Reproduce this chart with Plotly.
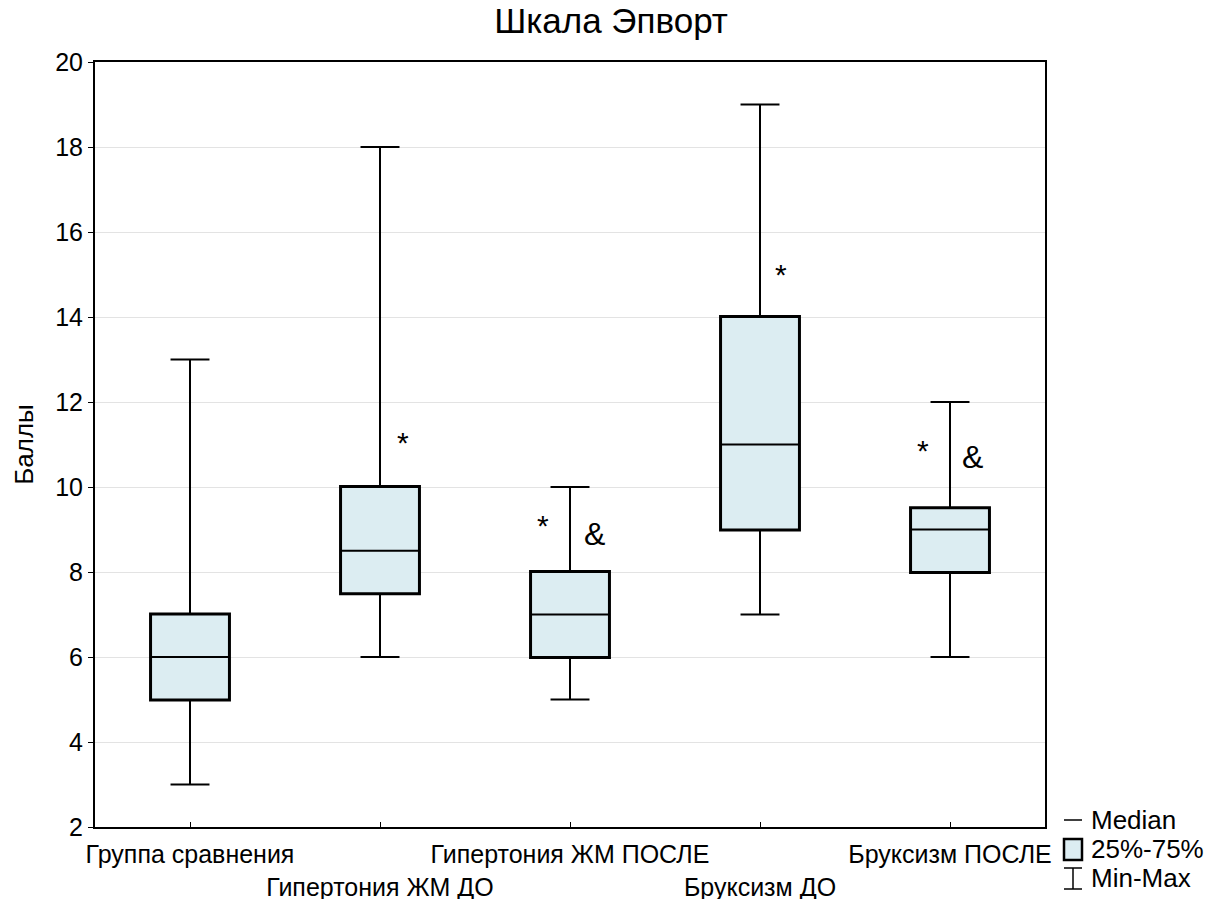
import plotly.graph_objects as go

categories = ["Группа сравнения", "Гипертония ЖМ ДО", "Гипертония ЖМ ПОСЛЕ", "Бруксизм ДО", "Бруксизм ПОСЛЕ"]
mins = [3, 6, 5, 7, 6]
q1s = [5, 7.5, 6, 9, 8]
medians = [6, 8.5, 7, 11, 9]
q3s = [7, 10, 8, 14, 9.5]
maxs = [13, 18, 10, 19, 12]

star_x = [1.12, 1.86, 3.11, 3.86]
star_y = [11.05, 9.1, 15.0, 10.85]
amp_x = [2.13, 4.12]
amp_y = [8.9, 10.7]

FONT = "Liberation Sans, Arial, sans-serif"
FILL = "#dcedf2"
pos = list(range(len(categories)))

fig = go.Figure()
# thick box outline (box only)
fig.add_trace(go.Box(
    x=pos, q1=q1s, median=medians, q3=q3s, lowerfence=q1s, upperfence=q3s,
    width=0.41, whiskerwidth=0, fillcolor=FILL,
    line=dict(color="black", width=4), boxpoints=False, hoverinfo="skip",
    showlegend=False,
))
# full box with whiskers
fig.add_trace(go.Box(
    x=pos, q1=q1s, median=medians, q3=q3s, lowerfence=mins, upperfence=maxs,
    width=0.41, whiskerwidth=0.5, fillcolor=FILL,
    line=dict(color="black", width=2), boxpoints=False, hoverinfo="skip",
    showlegend=False,
))

for x, y in zip(star_x, star_y):
    fig.add_annotation(x=x, y=y, text="*", showarrow=False, font=dict(family=FONT, size=30, color="black"))
for x, y in zip(amp_x, amp_y):
    fig.add_annotation(x=x, y=y, text="&", showarrow=False, font=dict(family=FONT, size=32, color="black"))

ticktext = [c if i % 2 == 0 else "<br>" + c for i, c in enumerate(categories)]

W, H = 1219, 899
L, R, T, B = 95, 174, 62, 72

fig.update_layout(
    width=W, height=H,
    margin=dict(l=L, r=R, t=T, b=B),
    paper_bgcolor="white", plot_bgcolor="white", boxmode="overlay",
    font=dict(family=FONT, size=24, color="black"),
    title=dict(text="Шкала Эпворт", x=611 / W, xanchor="center", y=1 - 21 / H, yanchor="middle",
               font=dict(family=FONT, size=35, color="black")),
    xaxis=dict(range=[-0.5, 4.5], tickvals=pos, ticktext=ticktext, ticks="inside", ticklen=5,
               tickangle=0, automargin=False, ticklabelstandoff=4,
               tickcolor="black", showgrid=False, zeroline=False, showline=True, linecolor="black",
               linewidth=2, mirror=True, tickfont=dict(size=25)),
    yaxis=dict(range=[2, 20], dtick=2, ticks="outside", ticklen=5, tickcolor="black", automargin=False,
               showgrid=True, gridcolor="#e3e3e3", gridwidth=1, zeroline=False, showline=True,
               linecolor="black", linewidth=2, mirror=True, tickfont=dict(size=25),
               title=dict(text="Баллы", font=dict(size=26), standoff=14)),
)

lx0, lx1 = 1064, 1082
PW, PH = W - L - R, H - T - B
def fx(v):
    return (v - L) / PW
def fy(v):
    return (H - B - v) / PH

fig.add_shape(type="line", xref="paper", yref="paper", x0=fx(lx0), x1=fx(lx1),
              y0=fy(820), y1=fy(820), line=dict(color="black", width=1.5))
fig.add_shape(type="rect", xref="paper", yref="paper", x0=fx(lx0), x1=fx(lx1),
              y0=fy(860), y1=fy(839), fillcolor=FILL, line=dict(color="black", width=2.5))
mx = (lx0 + lx1) / 2
for (xa, ya, xb, yb) in [(lx0, 868, lx1, 868), (lx0, 889, lx1, 889), (mx, 868, mx, 889)]:
    fig.add_shape(type="line", xref="paper", yref="paper", x0=fx(xa), x1=fx(xb), y0=fy(ya), y1=fy(yb),
                  line=dict(color="black", width=1.5))
for txt, yy in [("Median", 820), ("25%-75%", 849), ("Min-Max", 878)]:
    fig.add_annotation(xref="paper", yref="paper", x=fx(1089), y=fy(yy),
                       xanchor="left", yanchor="middle", text=txt, showarrow=False,
                       font=dict(family=FONT, size=26, color="black"))

fig.write_html("out.html")
